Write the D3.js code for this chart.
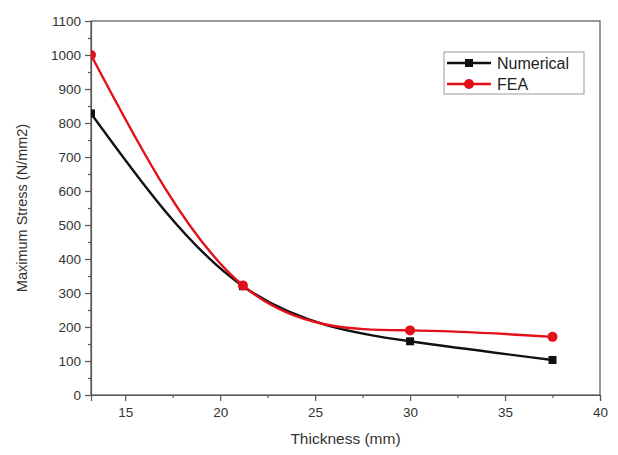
<!DOCTYPE html>
<html>
<head>
<meta charset="utf-8">
<script src="https://cdn.jsdelivr.net/npm/d3@7"></script>
<style>
  body { margin: 0; background: #fff; }
  svg { font-family: "Liberation Sans", Arial, sans-serif; }
</style>
</head>
<body>
<div id="chart"></div>
<script>
const thickness = [13.2, 21.2, 30, 37.5];
const numerical = [828, 320, 158, 103];
const fea = [1000, 322, 190, 171];
const xTicks = [15, 20, 25, 30, 35, 40];
const yTicks = [0, 100, 200, 300, 400, 500, 600, 700, 800, 900, 1000, 1100];

const width = 618, height = 455;
const margin = { top: 21, right: 18, bottom: 60, left: 91 };

const svg = d3.select("#chart").append("svg")
    .attr("width", width)
    .attr("height", height);

const x = d3.scaleLinear().domain([13.2, 40]).range([margin.left, width - margin.right]);
const y = d3.scaleLinear().domain([0, 1100]).range([height - margin.bottom, margin.top]);

svg.append("defs").append("clipPath").attr("id", "plotClip")
    .append("rect")
    .attr("x", margin.left)
    .attr("y", margin.top)
    .attr("width", x.range()[1] - margin.left)
    .attr("height", y.range()[0] - margin.top);

// frame
svg.append("rect")
    .attr("x", margin.left).attr("y", margin.top)
    .attr("width", x.range()[1] - margin.left)
    .attr("height", y.range()[0] - margin.top)
    .attr("fill", "none").attr("stroke", "#555").attr("stroke-width", 1.2);

// x axis
svg.append("g")
    .attr("transform", `translate(0,${y(0)})`)
    .call(d3.axisBottom(x).tickValues(xTicks).tickSize(6).tickPadding(6).tickFormat(d3.format("d")));
svg.append("g")
    .attr("transform", `translate(0,${y(0)})`)
    .call(d3.axisBottom(x).tickValues([17.5, 22.5, 27.5, 32.5, 37.5]).tickSize(3).tickFormat(""))
    .select(".domain").remove();

// y axis
svg.append("g")
    .attr("transform", `translate(${margin.left},0)`)
    .call(d3.axisLeft(y).tickValues(yTicks).tickSize(6).tickPadding(4).tickFormat(d3.format("d")));
svg.append("g")
    .attr("transform", `translate(${margin.left},0)`)
    .call(d3.axisLeft(y).tickValues(d3.range(50, 1100, 100)).tickSize(3).tickFormat(""))
    .select(".domain").remove();

svg.selectAll(".domain").attr("stroke", "#555").attr("stroke-width", 1.2);
svg.selectAll(".tick line").attr("stroke", "#555").attr("stroke-width", 1.2);
svg.selectAll(".tick text").attr("fill", "#333").style("font-size", "13.5px")
    .style("font-family", "Liberation Sans, Arial, sans-serif");

// titles
svg.append("text")
    .attr("x", (margin.left + x.range()[1]) / 2 )
    .attr("y", 444)
    .attr("text-anchor", "middle")
    .attr("fill", "#333")
    .style("font-size", "15.5px")
    .text("Thickness (mm)");

svg.append("text")
    .attr("transform", `translate(27,${(margin.top + y(0)) / 2}) rotate(-90)`)
    .attr("text-anchor", "middle")
    .attr("fill", "#333")
    .style("font-size", "14.5px")
    .text("Maximum Stress (N/mm2)");

// series
const plot = svg.append("g").attr("clip-path", "url(#plotClip)");
const line = d3.line().x(d => x(d[0])).y(d => y(d[1])).curve(d3.curveNatural);

const numPts = thickness.map((t, i) => [t, numerical[i]]);
const feaPts = thickness.map((t, i) => [t, fea[i]]);

plot.append("path").datum(numPts)
    .attr("d", line).attr("fill", "none")
    .attr("stroke", "#111").attr("stroke-width", 2.4);
plot.selectAll(".sq").data(numPts).enter().append("rect")
    .attr("x", d => x(d[0]) - 4).attr("y", d => y(d[1]) - 4)
    .attr("width", 8).attr("height", 8).attr("fill", "#111");

plot.append("path").datum(feaPts)
    .attr("d", line).attr("fill", "none")
    .attr("stroke", "#e3101a").attr("stroke-width", 2.4);
plot.selectAll(".dot").data(feaPts).enter().append("circle")
    .attr("cx", d => x(d[0])).attr("cy", d => y(d[1]))
    .attr("r", 5).attr("fill", "#e3101a");

// legend
const legend = svg.append("g");
legend.append("rect")
    .attr("x", 444).attr("y", 52).attr("width", 140).attr("height", 42)
    .attr("fill", "#fff").attr("stroke", "#999").attr("stroke-width", 1);
const items = [["Numerical", "#111", "sq"], ["FEA", "#e3101a", "dot"]];
items.forEach((it, i) => {
    const yy = 63 + i * 21;
    legend.append("line").attr("x1", 447).attr("x2", 491).attr("y1", yy).attr("y2", yy)
        .attr("stroke", it[1]).attr("stroke-width", 2.4);
    if (it[2] === "sq") {
        legend.append("rect").attr("x", 465).attr("y", yy - 4).attr("width", 8).attr("height", 8).attr("fill", it[1]);
    } else {
        legend.append("circle").attr("cx", 469).attr("cy", yy).attr("r", 5).attr("fill", it[1]);
    }
    legend.append("text").attr("x", 497).attr("y", yy + 5.5)
        .attr("fill", "#222").style("font-size", "16px").text(it[0]);
});
</script>
</body>
</html>
